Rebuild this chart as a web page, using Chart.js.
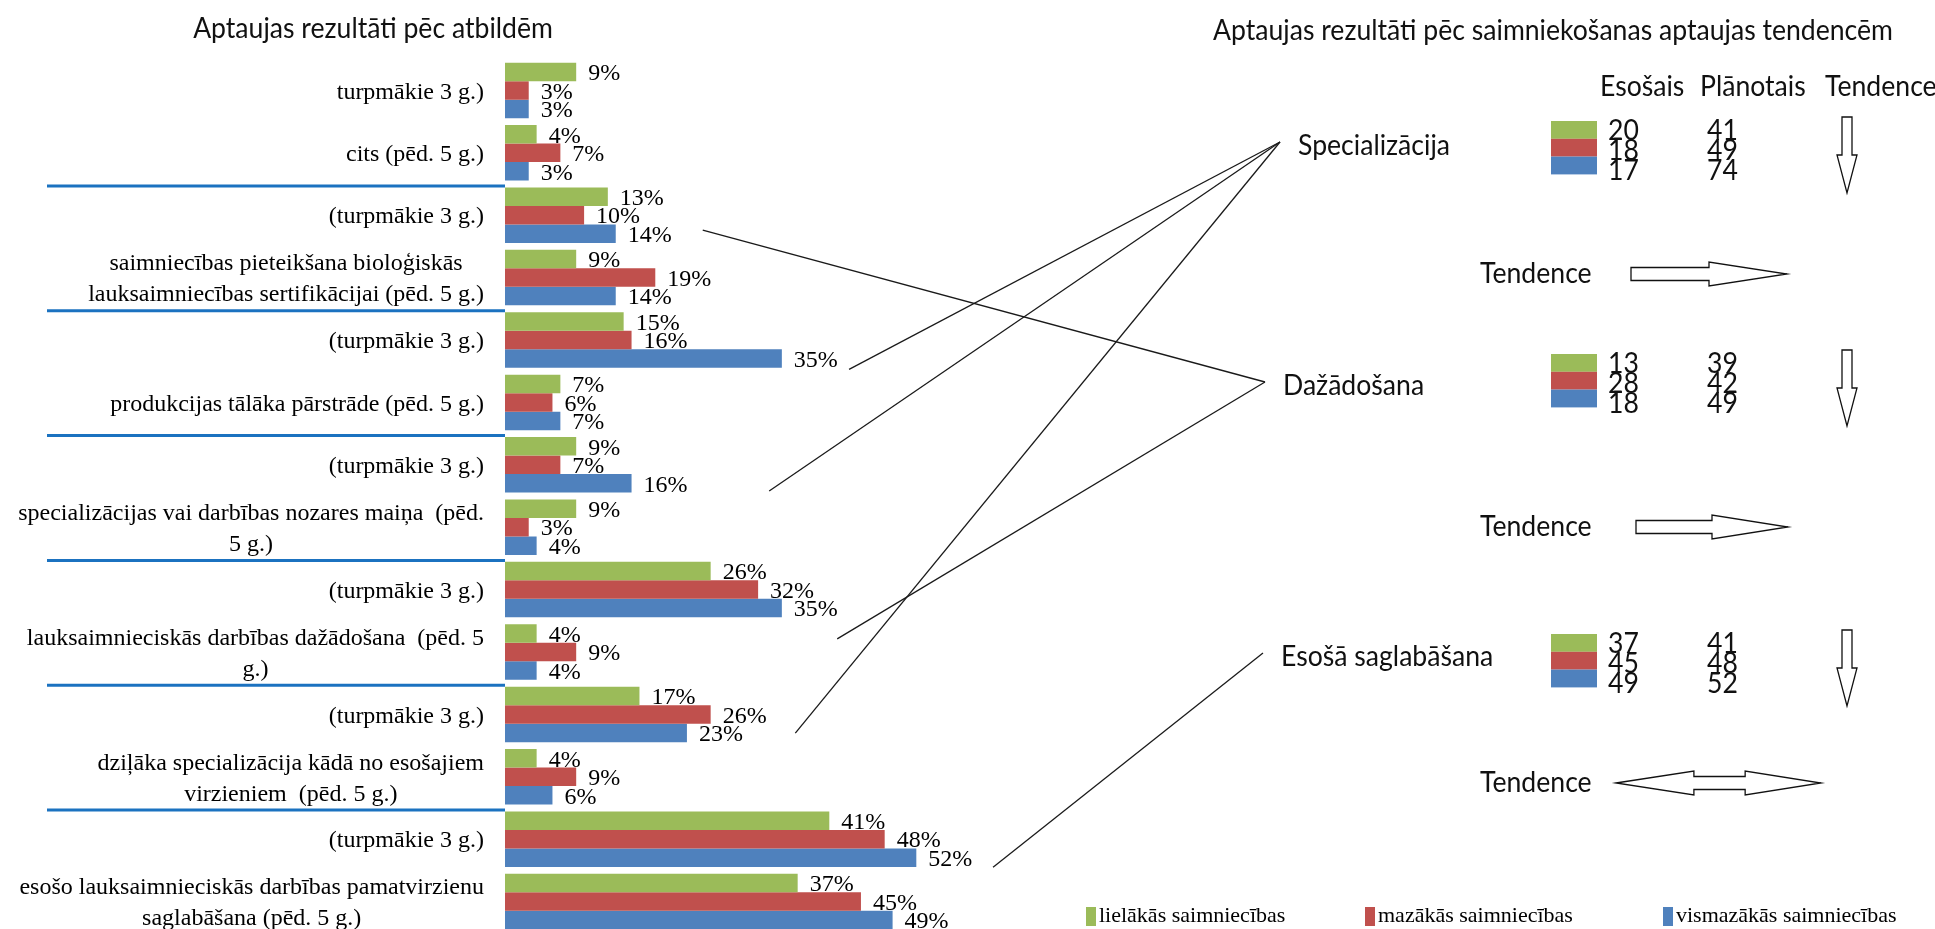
<!DOCTYPE html>
<html>
<head>
<meta charset="utf-8">
<title>Aptaujas rezultāti</title>
<script src="https://cdn.jsdelivr.net/npm/chart.js@4/dist/chart.umd.min.js"></script>
<style>
    html, body
    {
        margin: 0;
        padding: 0;
        background: #ffffff;
        overflow: hidden;
    }
    #frame
    {
        width: 1935px;
        height: 929px;
        overflow: hidden;
        position: relative;
    }
</style>
</head>
<body>
<div id="frame">
    <canvas id="chartCanvas" width="1935" height="940"></canvas>
</div>
<script>
"use strict";

// category labels, top to bottom
var categories = [
    ["turpmākie 3 g.)"],
    ["cits (pēd. 5 g.)"],
    ["(turpmākie 3 g.)"],
    ["saimniecības pieteikšana bioloģiskās", "lauksaimniecības sertifikācijai (pēd. 5 g.)"],
    ["(turpmākie 3 g.)"],
    ["produkcijas tālāka pārstrāde (pēd. 5 g.)"],
    ["(turpmākie 3 g.)"],
    ["specializācijas vai darbības nozares maiņa  (pēd.", "5 g.)"],
    ["(turpmākie 3 g.)"],
    ["lauksaimnieciskās darbības dažādošana  (pēd. 5", "g.)"],
    ["(turpmākie 3 g.)"],
    ["dziļāka specializācija kādā no esošajiem", "virzieniem  (pēd. 5 g.)"],
    ["(turpmākie 3 g.)"],
    ["esošo lauksaimnieciskās darbības pamatvirzienu", "saglabāšana (pēd. 5 g.)"]
];

// series values, %
var lielakas = [9, 4, 13, 9, 15, 7, 9, 9, 26, 4, 17, 4, 41, 37];
var mazakas = [3, 7, 10, 19, 16, 6, 7, 3, 32, 9, 26, 9, 48, 45];
var vismazakas = [3, 3, 14, 14, 35, 7, 16, 4, 35, 4, 23, 6, 52, 49];

var seriesNames = ["lielākās saimniecības", "mazākās saimniecības", "vismazākās saimniecības"];

// right panel: tendencies
var trendNames = ["Specializācija", "Dažādošana", "Esošā saglabāšana"];
var esosais = [[20, 18, 17], [13, 28, 18], [37, 45, 49]];
var planotais = [[41, 49, 74], [39, 42, 49], [41, 48, 52]];
var trendArrows = ["right", "right", "both"];

// connector lines: start in chart data space, end at a tendency label
var connectors = [
    { row: 2, value: 25.0, dy: 0.24, to: 1 },
    { row: 4, value: 43.5, dy: 0.47, to: 0 },
    { row: 6, value: 33.4, dy: 0.42, to: 0 },
    { row: 10, value: 36.7, dy: 0.30, to: 0 },
    { row: 8, value: 42.0, dy: 0.79, to: 1 },
    { row: 12, value: 61.7, dy: 0.45, to: 2 }
];

var colors = ["#9BBB59", "#C0504D", "#4F81BD"];

var SERIF = "'Liberation Serif', 'Times New Roman', serif";
var SANS = "Lato, 'Open Sans', sans-serif";
var SANS_FONT = "28px " + SANS;
var SANS_SX = 0.95;

// layout of the right panel (pixels)
var panel =
{
    labelX: [1298, 1283, 1281],
    labelY: [146, 386, 657],
    swatchX: 1551,
    swatchW: 46,
    swatchTop: [121, 354, 634],
    swatchRow: 17.8,
    col1X: 1608,
    col2X: 1707,
    numStep: 20,
    arrowX: 1847,
    arrowLen: 76,
    trendLabelX: 1480,
    trendY: [274, 527, 783],
    trendX0: [1631, 1636, 1616],
    trendX1: [1787, 1788, 1821],
    legendX: [1086, 1365, 1663],
    legendY: 916
};

function drawText(ctx, s, x, y, font, align, color, sx)
{
    ctx.save();
    ctx.font = font;
    ctx.textAlign = align || "left";
    ctx.textBaseline = "middle";
    ctx.fillStyle = color || "#111111";
    ctx.translate(x, y);
    ctx.scale(sx || 1, 1);
    ctx.fillText(s, 0, 0);
    ctx.restore();
}

function sansText(ctx, s, x, y, align)
{
    drawText(ctx, s, x, y, SANS_FONT, align, "#111111", SANS_SX);
}

function outlineShape(ctx, pts)
{
    ctx.save();
    ctx.beginPath();
    ctx.moveTo(pts[0][0], pts[0][1]);
    for (var i = 1; i < pts.length; i++)
    {
        ctx.lineTo(pts[i][0], pts[i][1]);
    }
    ctx.closePath();
    ctx.fillStyle = "#ffffff";
    ctx.fill();
    ctx.strokeStyle = "#111111";
    ctx.lineWidth = 1.3;
    ctx.stroke();
    ctx.restore();
}

function downArrow(ctx, cx, top, len)
{
    var sw = 5, hw = 10, hs = top + len * 0.5, bottom = top + len;
    outlineShape(ctx, [[cx - sw, top], [cx + sw, top], [cx + sw, hs], [cx + hw, hs], [cx, bottom], [cx - hw, hs], [cx - sw, hs]]);
}

function rightArrow(ctx, x0, x1, cy)
{
    var sw = 6.5, hw = 12, hs = x0 + (x1 - x0) * 0.5;
    outlineShape(ctx, [[x0, cy - sw], [hs, cy - sw], [hs, cy - hw], [x1, cy], [hs, cy + hw], [hs, cy + sw], [x0, cy + sw]]);
}

function doubleArrow(ctx, x0, x1, cy)
{
    var sw = 6.5, hw = 12, len = x1 - x0;
    var a = x0 + len * 0.38, b = x1 - len * 0.37;
    outlineShape(ctx, [[x0, cy], [a, cy - hw], [a, cy - sw], [b, cy - sw], [b, cy - hw], [x1, cy],
        [b, cy + hw], [b, cy + sw], [a, cy + sw], [a, cy + hw]]);
}

var overlayPlugin =
{
    id: "overlay",
    afterDatasetsDraw: function(chart)
    {
        var ctx = chart.ctx;
        var yScale = chart.scales.y;
        var xScale = chart.scales.x;
        var pitch = yScale.getPixelForValue(1) - yScale.getPixelForValue(0);
        var axisLeft = chart.chartArea.left;

        // value labels next to bars
        chart.data.datasets.forEach(function(dataset, setIndex)
        {
            var meta = chart.getDatasetMeta(setIndex);
            meta.data.forEach(function(bar, index)
            {
                drawText(ctx, dataset.data[index] + "%", bar.x + 12, bar.y + 2, "24px " + SERIF, "left", "#000000");
            });
        });

        // category labels: block right aligned, lines centred in the block
        ctx.save();
        ctx.font = "24px " + SERIF;
        chart.data.labels.forEach(function(lines, index)
        {
            var cy = yScale.getPixelForValue(index) + 2;
            var right = axisLeft - 21;
            var maxW = 0;
            lines.forEach(function(line)
            {
                maxW = Math.max(maxW, ctx.measureText(line).width);
            });
            var lh = 31;
            var y0 = cy - (lines.length - 1) * lh / 2;
            lines.forEach(function(line, li)
            {
                drawText(ctx, line, right - maxW / 2, y0 + li * lh, "24px " + SERIF, "center", "#000000");
            });
        });
        ctx.restore();

        // blue separators between question pairs
        ctx.save();
        ctx.strokeStyle = "#1B72C0";
        ctx.lineWidth = 3;
        for (var r = 1; r < chart.data.labels.length - 1; r += 2)
        {
            var yy = (yScale.getPixelForValue(r) + yScale.getPixelForValue(r + 1)) / 2 + 2;
            ctx.beginPath();
            ctx.moveTo(47, yy);
            ctx.lineTo(axisLeft, yy);
            ctx.stroke();
        }
        ctx.restore();

        // titles
        sansText(ctx, "Aptaujas rezultāti pēc atbildēm", 373, 29, "center");
        sansText(ctx, "Aptaujas rezultāti pēc saimniekošanas aptaujas tendencēm", 1213, 31, "left");
        sansText(ctx, "Esošais", 1600, 87, "left");
        sansText(ctx, "Plānotais", 1700, 87, "left");
        sansText(ctx, "Tendence", 1825, 87, "left");

        // right panel groups
        trendNames.forEach(function(name, g)
        {
            sansText(ctx, name, panel.labelX[g], panel.labelY[g], "left");
            var top = panel.swatchTop[g];
            for (var k = 0; k < 3; k++)
            {
                ctx.fillStyle = colors[k];
                ctx.fillRect(panel.swatchX, top + k * panel.swatchRow, panel.swatchW, panel.swatchRow);
                var ny = top + 10 + k * panel.numStep;
                sansText(ctx, String(esosais[g][k]), panel.col1X, ny, "left");
                sansText(ctx, String(planotais[g][k]), panel.col2X, ny, "left");
            }
            downArrow(ctx, panel.arrowX, top - 4, panel.arrowLen);
            sansText(ctx, "Tendence", panel.trendLabelX, panel.trendY[g], "left");
            if (trendArrows[g] === "both")
            {
                doubleArrow(ctx, panel.trendX0[g], panel.trendX1[g], panel.trendY[g]);
            }
            else
            {
                rightArrow(ctx, panel.trendX0[g], panel.trendX1[g], panel.trendY[g]);
            }
        });

        // connector lines
        ctx.save();
        ctx.strokeStyle = "#1a1a1a";
        ctx.lineWidth = 1.3;
        connectors.forEach(function(c)
        {
            var x0 = xScale.getPixelForValue(c.value);
            var y0 = yScale.getPixelForValue(c.row) + c.dy * pitch;
            ctx.beginPath();
            ctx.moveTo(x0, y0);
            ctx.lineTo(panel.labelX[c.to] - 18, panel.labelY[c.to] - 4);
            ctx.stroke();
        });
        ctx.restore();

        // legend
        seriesNames.forEach(function(name, k)
        {
            var lx = panel.legendX[k];
            ctx.fillStyle = colors[k];
            ctx.fillRect(lx, panel.legendY - 9, 10, 19);
            drawText(ctx, name, lx + 13, panel.legendY, "22px " + SERIF, "left", "#000000");
        });
    }
};

function buildDatasets()
{
    return [lielakas, mazakas, vismazakas].map(function(values, k)
    {
        return {
            label: seriesNames[k],
            data: values,
            backgroundColor: colors[k],
            borderWidth: 0,
            categoryPercentage: 0.89,
            barPercentage: 1.0
        };
    });
}

var canvas = document.getElementById("chartCanvas");
var chart = new Chart(canvas.getContext("2d"),
{
    type: "bar",
    data:
    {
        labels: categories,
        datasets: buildDatasets()
    },
    options:
    {
        indexAxis: "y",
        responsive: false,
        animation: false,
        layout:
        {
            padding: { left: 505, right: 1935 - 979.6, top: 59.2, bottom: 940 - 932.8 }
        },
        scales:
        {
            x: { display: false, min: 0, max: 60 },
            y: { display: false }
        },
        plugins:
        {
            legend: { display: false },
            tooltip: { enabled: false },
            title: { display: false }
        }
    },
    plugins: [overlayPlugin]
});
</script>
</body>
</html>
